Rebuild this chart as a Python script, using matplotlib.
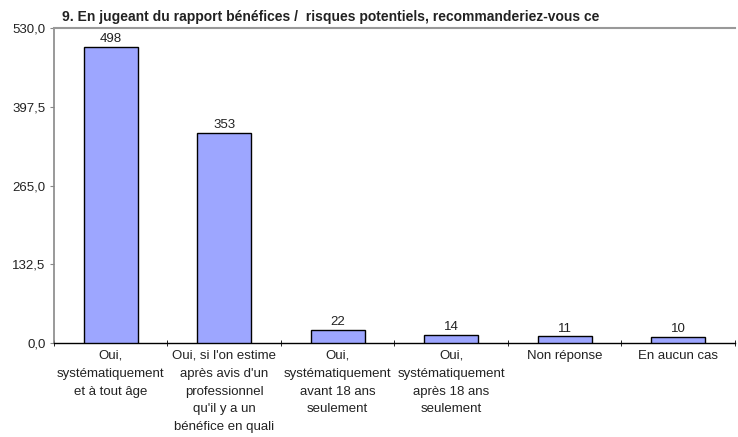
import matplotlib.pyplot as plt
import numpy as np

plt.rcParams['font.family'] = ['Liberation Sans', 'DejaVu Sans']

categories = [
    "Oui,\nsystématiquement\net à tout âge",
    "Oui, si l'on estime\naprès avis d'un\nprofessionnel\nqu'il y a un\nbénéfice en quali",
    "Oui,\nsystématiquement\navant 18 ans\nseulement",
    "Oui,\nsystématiquement\naprès 18 ans\nseulement",
    "Non réponse",
    "En aucun cas",
]
values = [498, 353, 22, 14, 11, 10]
yticks = [0, 132.5, 265, 397.5, 530]
title = "9. En jugeant du rapport bénéfices /  risques potentiels, recommanderiez-vous ce"

fig = plt.figure(figsize=(7.38, 4.37), dpi=100)
ax = fig.add_axes([54 / 738, 1 - 343 / 437, 681 / 738, 315 / 437])

x = np.arange(len(values))
ax.bar(x, values, width=0.48, color='#9da6ff', edgecolor='black', linewidth=1.0, zorder=3)

# value labels above the bars
for xi, v in zip(x, values):
    ax.text(xi, v + 3, str(v), ha='center', va='bottom', fontsize=9.5, color='#222222')

ax.set_xlim(-0.5, len(values) - 0.5)
ax.set_ylim(0, 530)
ax.set_yticks(yticks)
ax.set_yticklabels([f"{t:.1f}".replace('.', ',') for t in yticks], fontsize=9.5, color='#222222')

ax.set_xticks(np.arange(len(values) + 1) - 0.5, minor=True)
ax.set_xticks(x)
ax.set_xticklabels(categories, fontsize=9.5, color='#222222', linespacing=1.65, va='top')
ax.tick_params(axis='x', which='major', length=0, pad=5)
ax.tick_params(axis='x', which='minor', length=5, direction='inout', color='black')
ax.tick_params(axis='y', length=3, direction='out', color='#888888', pad=3)

ax.spines['right'].set_visible(False)
ax.spines['top'].set_color('#999999')
ax.spines['top'].set_linewidth(1.5)
ax.spines['left'].set_color('#888888')
ax.spines['left'].set_linewidth(1.2)
ax.spines['bottom'].set_color('black')
ax.spines['bottom'].set_linewidth(1.0)

fig.text(62 / 738, 1 - 17 / 437, title, fontsize=10, fontweight='bold', color='#222222', va='center', ha='left')

fig.savefig('out.png', dpi=100)
